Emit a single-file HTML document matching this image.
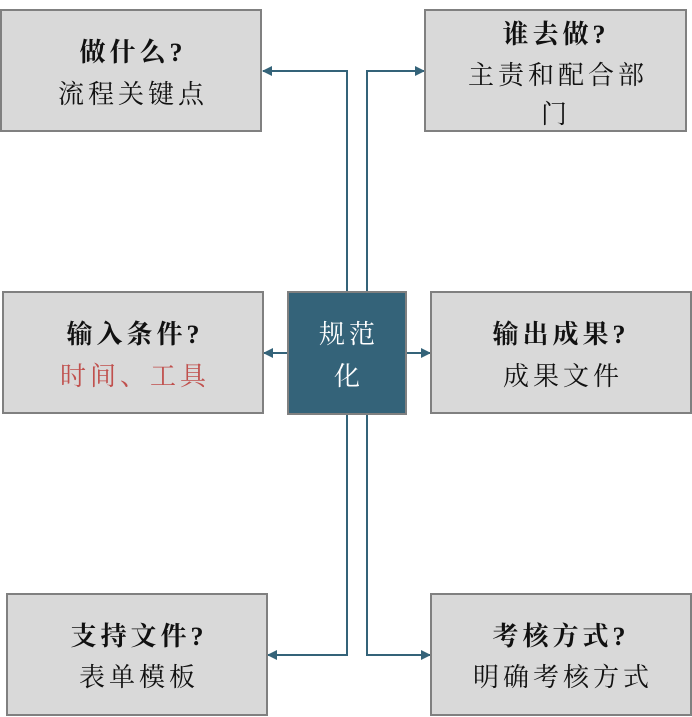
<!DOCTYPE html>
<html><head><meta charset="utf-8"><style>
html,body{margin:0;padding:0;background:#fff;}
svg{display:block;}
text{font-family:"Liberation Serif","Noto Serif CJK SC",serif;font-size:26px;letter-spacing:4px;text-anchor:middle;fill:#111;}
.b{font-weight:bold;}
</style></head><body>
<svg width="692" height="717" viewBox="0 0 692 717" xmlns="http://www.w3.org/2000/svg">
<defs><marker id="a" markerWidth="10" markerHeight="10" refX="9" refY="5" orient="auto" markerUnits="userSpaceOnUse"><path d="M0,0 L10,5 L0,10 Z" fill="#346379"/></marker></defs>
<g fill="none" stroke="#346379" stroke-width="2">
<path d="M347,292 V71 H263" marker-end="url(#a)"/>
<path d="M367,292 V71 H424" marker-end="url(#a)"/>
<path d="M288,353 H264" marker-end="url(#a)"/>
<path d="M406,353 H430" marker-end="url(#a)"/>
<path d="M347,414 V655 H268" marker-end="url(#a)"/>
<path d="M367,414 V655 H430" marker-end="url(#a)"/>
</g>
<g fill="#d9d9d9" stroke="#808080" stroke-width="2">
<rect x="1" y="10" width="260" height="121"/>
<rect x="425" y="10" width="261" height="121"/>
<rect x="3" y="292" width="260" height="121"/>
<rect x="431" y="292" width="260" height="121"/>
<rect x="7" y="594" width="260" height="121"/>
<rect x="431" y="594" width="260" height="121"/>
</g>
<rect x="288" y="292" width="118" height="122" fill="#346379" stroke="#808080" stroke-width="2"/>
<text class="b" x="133" y="61">做什么?</text>
<text x="133" y="103">流程关键点</text>
<text class="b" x="556" y="43">谁去做?</text>
<text x="558" y="84">主责和配合部</text>
<text x="556" y="123">门</text>
<text class="b" x="135" y="343">输入条件?</text>
<text x="135" y="385" style="fill:#c0504d">时间、工具</text>
<text class="b" x="561" y="343">输出成果?</text>
<text x="563" y="385">成果文件</text>
<text class="b" x="139" y="645">支持文件?</text>
<text x="139" y="686">表单模板</text>
<text class="b" x="561" y="645">考核方式?</text>
<text x="563" y="686">明确考核方式</text>
<text x="349" y="343" style="fill:#fff">规范</text>
<text x="349" y="385" style="fill:#fff">化</text>
</svg>
</body></html>
